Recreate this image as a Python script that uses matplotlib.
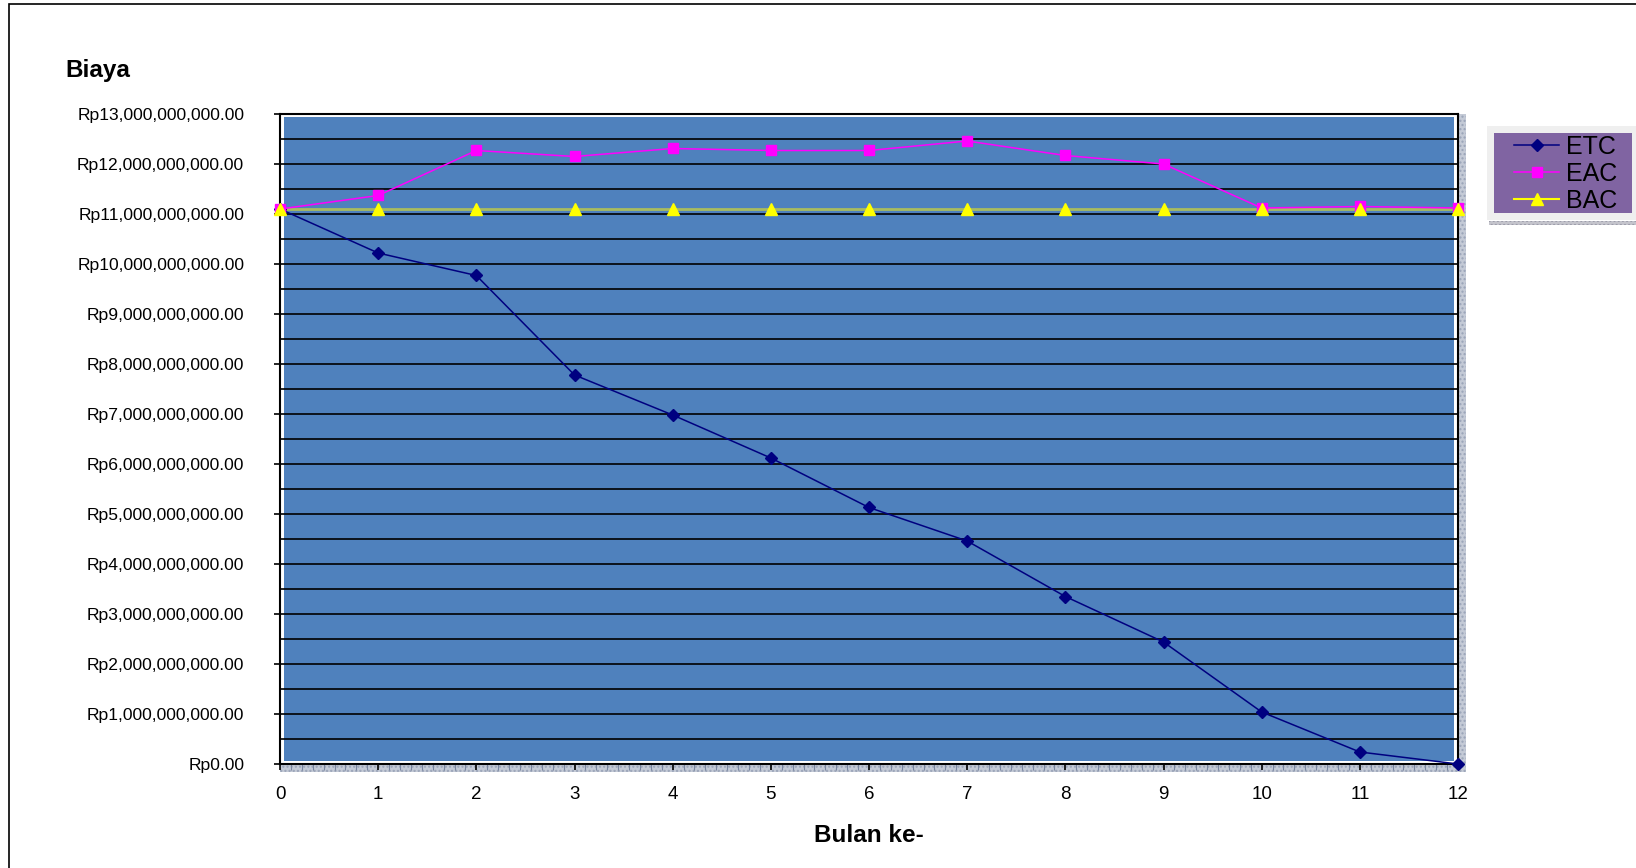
import numpy as np
import matplotlib.pyplot as plt
from matplotlib.patches import Rectangle
from matplotlib.ticker import FuncFormatter, MultipleLocator

plt.rcParams['font.family'] = ['Liberation Sans', 'DejaVu Sans']

# data (Rp)
bulan = np.arange(0, 13)
etc = np.array([11.10, 10.22, 9.77, 7.78, 6.98, 6.12, 5.13, 4.46, 3.35, 2.44, 1.04, 0.24, 0.0]) * 1e9
eac = np.array([11.10, 11.37, 12.27, 12.15, 12.31, 12.27, 12.27, 12.46, 12.17, 12.00, 11.12, 11.15, 11.12]) * 1e9
bac = np.array([11.10] * 13) * 1e9

W, H = 1636, 868
fig = plt.figure(figsize=(W / 100, H / 100), dpi=100)


def fig_rect(xa, ya, xb, yb, **kw):
    # rectangle given in pixel coords (top-left origin)
    r = Rectangle((xa / W, 1 - yb / H), (xb - xa) / W, (yb - ya) / H, transform=fig.transFigure, **kw)
    fig.patches.append(r)
    return r


# outer chart border
fig_rect(9, 4, 1700, 900, fill=False, edgecolor='black', lw=1.2, zorder=-1)

x0, x1, y0, y1 = 280, 1458, 114, 764
ax = fig.add_axes([x0 / W, 1 - y1 / H, (x1 - x0) / W, (y1 - y0) / H])
ax.set_facecolor('white')

# gray dotted bands below and right of the plot
fig_rect(x0, 765, 1466, 772, facecolor='#C4CAD6', edgecolor='#9AA4B8', hatch='....', lw=0, zorder=-1)
fig_rect(1459, y0, 1466, 772, facecolor='#C4CAD6', edgecolor='#9AA4B8', hatch='....', lw=0, zorder=-1)

# legend background
fig_rect(1487, 126, 1640, 220, facecolor='#EFEFEF', edgecolor='none', zorder=-1)
fig_rect(1494, 133, 1632, 213, facecolor='#8064A2', edgecolor='none', zorder=-0.5)
fig_rect(1489, 221, 1640, 225, facecolor='#C4C4CC', edgecolor='#9A9AA8', hatch='....', lw=0, zorder=-1)

# blue plot area, inset slightly from the frame
ax.add_patch(Rectangle((4 / (x1 - x0), 3 / (y1 - y0)), 1 - 8 / (x1 - x0), 1 - 6 / (y1 - y0),
                       transform=ax.transAxes, facecolor='#4F81BD', edgecolor='none', zorder=0.2))

l1, = ax.plot(bulan, etc, '-D', color='#000080', lw=1.1, ms=6.5, clip_on=False, zorder=3, label='ETC')
l2, = ax.plot(bulan, eac, '-s', color='#FF00FF', lw=1.1, ms=6.5, clip_on=False, zorder=3, label='EAC')
ax.plot(bulan, bac, '-', color='#A9BC5E', lw=2, clip_on=False, zorder=2.8)
ax.plot(bulan, bac, '^', color='#FFFF00', ms=9, clip_on=False, zorder=3.5)
l3h, = plt.plot([], [], '-^', color='#FFFF00', lw=1.5, ms=9, label='BAC')

ax.set_xlim(0, 12)
ax.set_ylim(0, 13e9)
ax.set_xticks(bulan)
ax.xaxis.set_minor_locator(MultipleLocator(1 / 9))
ax.yaxis.set_major_locator(MultipleLocator(1e9))
ax.yaxis.set_minor_locator(MultipleLocator(0.5e9))
ax.yaxis.set_major_formatter(FuncFormatter(lambda v, p: 'Rp{:,.2f}'.format(v)))
ax.grid(True, which='both', axis='y', color='black', lw=1.2)

ax.tick_params(axis='y', which='major', labelsize=12.6, length=4.3, width=1.2, pad=21.5, direction='out')
ax.tick_params(axis='y', which='minor', length=0)
ax.tick_params(axis='x', which='major', labelsize=13.5, length=4.3, width=1.2, pad=11.5, direction='out')
ax.tick_params(axis='x', which='minor', length=4, width=0.8, color='#7A86A0', direction='out')

for s in ax.spines.values():
    s.set_color('black')
    s.set_linewidth(1.5)

fig.text(65 / W, 1 - 70 / H, 'Biaya', fontsize=17.5, fontweight='bold', va='center', ha='left')
fig.text(869 / W, 1 - 835 / H, 'Bulan ke-', fontsize=17.5, fontweight='bold', va='center', ha='center')

leg = fig.legend(handles=[l1, l2, l3h], loc='upper left', bbox_to_anchor=(1514 / W, 1 - 135 / H),
                 fontsize=18, frameon=False, handlelength=1.8, handletextpad=0.3,
                 labelspacing=0.12, borderpad=0, borderaxespad=0)
leg.set_zorder(5)

fig.savefig('out.png', dpi=100, facecolor='white')
